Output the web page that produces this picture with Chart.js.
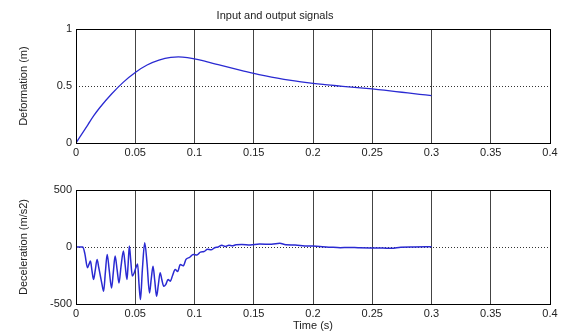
<!DOCTYPE html>
<html lang="en">
<head>
  <meta charset="UTF-8">
  <title>Input and output signals</title>
  <script src="https://cdn.jsdelivr.net/npm/chart.js"></script>
  <style>
    body {
      margin: 0;
      padding: 0;
      background: #fff;
    }
    .plot {
      position: absolute;
      left: 0;
      width: 563px;
    }
    #topBox { top: 0; height: 165px; }
    #bottomBox { top: 165px; height: 168px; }
  </style>
</head>
<body>
  <div class="plot" id="topBox"><canvas id="deformationChart"></canvas></div>
  <div class="plot" id="bottomBox"><canvas id="decelerationChart"></canvas></div>

  <script>
    // values
    const timeTop = [0, 0.005, 0.01, 0.015, 0.02, 0.03, 0.04, 0.05, 0.06, 0.07, 0.08, 0.09, 0.1, 0.11, 0.12, 0.13, 0.14, 0.15, 0.16, 0.17, 0.18, 0.19, 0.2, 0.21, 0.22, 0.23, 0.24, 0.25, 0.26, 0.27, 0.28, 0.29, 0.3];
    const deformation = [0, 0.08, 0.16, 0.24, 0.31, 0.43, 0.535, 0.62, 0.685, 0.728, 0.752, 0.755, 0.74, 0.715, 0.688, 0.662, 0.637, 0.612, 0.59, 0.57, 0.552, 0.537, 0.524, 0.513, 0.503, 0.494, 0.485, 0.475, 0.464, 0.452, 0.44, 0.428, 0.416];

    const timeBottom = [0, 0.0057, 0.0075, 0.0097, 0.011, 0.0122, 0.0135, 0.0148, 0.0163, 0.0178, 0.0192, 0.0205, 0.022, 0.0233, 0.0248, 0.0263, 0.028, 0.03, 0.0315, 0.033, 0.0347, 0.0363, 0.038, 0.04, 0.0415, 0.043, 0.044, 0.045, 0.0462, 0.0475, 0.049, 0.05, 0.051, 0.052, 0.0532, 0.0544, 0.056, 0.058, 0.06, 0.062, 0.0635, 0.065, 0.0665, 0.068, 0.0695, 0.071, 0.0725, 0.074, 0.0757, 0.0777, 0.0795, 0.0815, 0.0837, 0.0858, 0.088, 0.0905, 0.0928, 0.096, 0.0989, 0.102, 0.105, 0.108, 0.111, 0.114, 0.117, 0.12, 0.123, 0.126, 0.129, 0.132, 0.135, 0.14, 0.147, 0.155, 0.165, 0.172, 0.177, 0.185, 0.193, 0.2, 0.208, 0.215, 0.223, 0.23, 0.238, 0.248, 0.259, 0.266, 0.274, 0.285, 0.3];
    const deceleration = [0, 0, -60, -182, -150, -123, -210, -285, -200, -109, -180, -250, -330, -388, -220, -65, -200, -360, -220, -80, -200, -315, -170, -35, -160, -285, -150, 9, -120, -255, -230, -197, -170, -150, -330, -461, -200, 38, -150, -403, -280, -168, -300, -432, -330, -226, -290, -344, -330, -285, -300, -250, -197, -215, -153, -165, -109, -90, -65, -70, -45, -40, -20, -25, -6, 0, 15, 5, 15, 10, 20, 22, 18, 26, 24, 32, 20, 18, 9, 8, 3, -2, -6, -4, -6, -8, -9, -12, -3, 0, 3];

    const xTicks = [0, 0.05, 0.1, 0.15, 0.2, 0.25, 0.3, 0.35, 0.4];

    Chart.defaults.font.family = "'Liberation Sans', Arial, sans-serif";
    Chart.defaults.font.size = 11;
    Chart.defaults.color = '#222';

    // draws the black frame round the plot area
    const framePlugin = {
      id: 'frame',
      afterDraw(chart) {
        const a = chart.chartArea;
        const ctx = chart.ctx;
        ctx.save();
        ctx.strokeStyle = '#000';
        ctx.lineWidth = 1;
        ctx.strokeRect(Math.round(a.left) + 0.5, Math.round(a.top) + 0.5, Math.round(a.right - a.left), Math.round(a.bottom - a.top));
        ctx.restore();
      }
    };

    function xScale(height, showTitle) {
      return {
        type: 'linear',
        min: 0,
        max: 0.4,
        afterBuildTicks: (s) => { s.ticks = xTicks.map(v => ({ value: v })); },
        ticks: { padding: 3, callback: (v) => String(v), maxRotation: 0 },
        grid: { color: '#444', drawTicks: false },
        border: { display: false },
        title: { display: showTitle, text: 'Time (s)', padding: { top: 0, bottom: 0 } },
        afterFit: (s) => { s.height = height; }
      };
    }

    function yScale(min, max, step, label) {
      return {
        min: min,
        max: max,
        ticks: { stepSize: step, padding: 4, callback: (v) => String(v) },
        grid: { color: '#333', drawTicks: false },
        border: { display: false, dash: [1, 2] },
        title: { display: true, text: label, padding: { top: 17, bottom: 0 } },
        afterFit: (s) => { s.width = 76; }
      };
    }

    new Chart(document.getElementById('deformationChart'), {
      type: 'line',
      data: {
        datasets: [{
          data: timeTop.map((t, i) => ({ x: t, y: deformation[i] })),
          borderColor: '#2a2ad2',
          borderWidth: 1.3,
          pointRadius: 0,
          tension: 0.4,
          fill: false
        }]
      },
      options: {
        responsive: true,
        maintainAspectRatio: false,
        animation: false,
        layout: { padding: { left: 0, right: 13, top: 0, bottom: 0 } },
        plugins: {
          legend: { display: false },
          tooltip: { enabled: false },
          title: {
            display: true,
            text: 'Input and output signals',
            color: '#222',
            font: { size: 11, weight: 'normal' },
            padding: { top: 9, bottom: 7 }
          }
        },
        scales: {
          x: xScale(22, false),
          y: yScale(0, 1, 0.5, 'Deformation (m)')
        }
      },
      plugins: [framePlugin]
    });

    new Chart(document.getElementById('decelerationChart'), {
      type: 'line',
      data: {
        datasets: [{
          data: timeBottom.map((t, i) => ({ x: t, y: deceleration[i] })),
          borderColor: '#2a2ad2',
          borderWidth: 1.5,
          pointRadius: 0,
          cubicInterpolationMode: 'monotone',
          fill: false
        }]
      },
      options: {
        responsive: true,
        maintainAspectRatio: false,
        animation: false,
        layout: { padding: { left: 0, right: 13, top: 25, bottom: 0 } },
        plugins: {
          legend: { display: false },
          tooltip: { enabled: false }
        },
        scales: {
          x: xScale(29, true),
          y: yScale(-500, 500, 500, 'Deceleration (m/s2)')
        }
      },
      plugins: [framePlugin]
    });
  </script>
</body>
</html>
